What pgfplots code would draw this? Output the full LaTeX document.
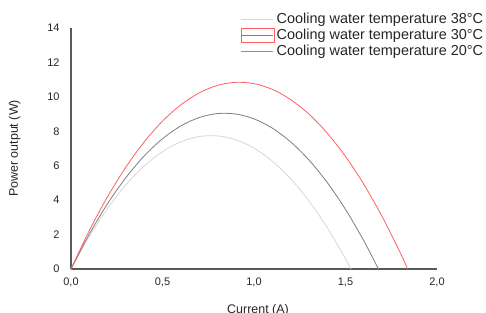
\documentclass[border=0pt]{standalone}
\usepackage{pgfplots}
\pgfplotsset{compat=1.18}
\usepackage{fontspec}
\setmainfont{Liberation Sans}
\definecolor{axgray}{RGB}{90,90,90}
\definecolor{lred}{RGB}{255,95,95}
\definecolor{mgray}{RGB}{125,125,125}
\definecolor{lgray}{RGB}{215,215,215}
\begin{document}
\begin{tikzpicture}
\begin{axis}[
  scale only axis,
  width=366bp, height=241bp,
  xmin=0, xmax=2, ymin=0, ymax=14,
  axis lines=left,
  axis line style={axgray, line width=1.1pt, -},
  xtick={0,0.5,1,1.5,2},
  xticklabels={{0,0},{0,5},{1,0},{1,5},{2,0}},
  ytick={0,2,4,6,8,10,12,14},
  major tick length=0pt,
  /pgf/number format/assume math mode=true,
  tick label style={font=\fontsize{11}{12}\selectfont, text=black!85},
  xticklabel style={yshift=-5bp},
  yticklabel style={xshift=-8bp},
  xlabel={Current (A)},
  ylabel={Power output (W)},
  label style={font=\fontsize{12.5}{14}\selectfont, text=black!85},
  xlabel style={yshift=-11bp, xshift=4bp},
  ylabel style={yshift=20bp},
  legend style={draw=none, fill=none, at={(1.132,1.07)}, anchor=north east,
    font=\fontsize{14.5}{15}\selectfont, text=black!85, row sep=0pt,
    legend cell align=left, inner sep=0pt},
]
\addplot[lgray, line width=0.8pt, smooth,
  legend image code/.code={\draw[lgray, line width=0.8pt] (0bp,0bp) -- (32bp,0bp);}] coordinates {
(0,0) (0.1,1.894) (0.2,3.523) (0.3,4.887) (0.4,5.986) (0.5,6.820) (0.6,7.389)
(0.7,7.694) (0.8,7.734) (0.9,7.509) (1.0,7.019) (1.1,6.264) (1.2,5.244)
(1.3,3.960) (1.4,2.410) (1.5,0.596) (1.53,0)};
\addlegendentry{Cooling water temperature 38°C}
\addplot[mgray, line width=0.8pt, smooth,
  legend image code/.code={\draw[lred, line width=0.6pt] (0bp,-7bp) rectangle (33bp,7bp); \draw[mgray, line width=0.8pt] (1bp,0bp) -- (32bp,0bp);}] coordinates {
(0,0) (0.1,2.027) (0.2,3.797) (0.3,5.310) (0.4,6.567) (0.5,7.567) (0.6,8.311)
(0.7,8.799) (0.8,9.029) (0.9,9.004) (1.0,8.722) (1.1,8.183) (1.2,7.388)
(1.3,6.336) (1.4,5.028) (1.5,3.463) (1.6,1.642) (1.68,0)};
\addlegendentry{Cooling water temperature 30°C}
\addplot[lred, line width=0.8pt, smooth,
  legend image code/.code={\draw[lred, line width=0.8pt] (0bp,0bp) -- (32bp,0bp);}] coordinates {
(0,0) (0.1,2.231) (0.2,4.205) (0.3,5.922) (0.4,7.384) (0.5,8.589) (0.6,9.537)
(0.7,10.229) (0.8,10.665) (0.9,10.845) (1.0,10.768) (1.1,10.435) (1.2,9.845)
(1.3,8.999) (1.4,7.897) (1.5,6.538) (1.6,4.922) (1.7,3.051) (1.8,0.923) (1.84,0)};
\addlegendentry{Cooling water temperature 20°C}
\end{axis}
\pgfresetboundingbox
\path (-71bp,-44bp) rectangle (415bp,269bp);
\end{tikzpicture}
\end{document}
